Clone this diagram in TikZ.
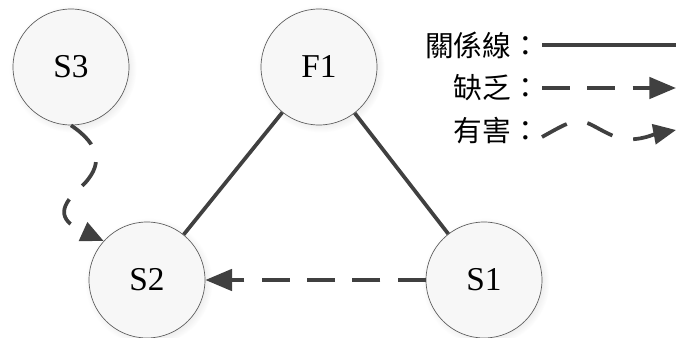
\documentclass[tikz,border=0pt]{standalone}
\usepackage{fontspec}
\setmainfont{Liberation Serif}
\newfontfamily\tnr{Liberation Serif}
\newfontfamily\cjk{Noto Sans CJK TC}
\usetikzlibrary{arrows.meta,shadows}
\begin{document}
\begin{tikzpicture}[x=0.75pt,y=-0.75pt,
  st/.style={circle,minimum size=87pt,inner sep=0pt,draw=gray!70!black,line width=0.5pt,
    fill=gray!6,font=\tnr\fontsize{25}{28}\selectfont,
    circular drop shadow={shadow xshift=1.2pt,shadow yshift=-1.2pt,opacity=0.15,fill=gray}},
  rel/.style={draw=black!75,line width=2.8pt},
  lack/.style={rel,dash pattern=on 21pt off 13pt,-{Triangle[length=20pt,width=16pt]}},
  harm/.style={rel,dash pattern=on 21pt off 14pt,-{Triangle[length=17pt,width=15pt]}},
  leg/.style={anchor=east,inner sep=0pt,font=\cjk\fontsize{21.5}{25}\selectfont}
]
\useasboundingbox (0,0) rectangle (676,338);
\node[st] (S3) at (71,67) {S3};
\node[st] (F1) at (319,67) {F1};
\node[st] (S2) at (147,280) {S2};
\node[st] (S1) at (484,280) {S1};

\draw[rel] (F1) -- (S2);
\draw[rel] (F1) -- (S1);
\draw[lack] (S1) -- (S2);
\draw[harm] (S3.south) .. controls (100,145) and (105,165) .. (80,188)
  .. controls (55,210) and (62,222) .. (S2.138);

% legend
\node[leg] (t1) at (540,45) {關係線：};
\node[leg] (t2) at (540,88) {缺乏：};
\node[leg] (t3) at (540,131) {有害：};
\coordinate (a1) at (542,45); \coordinate (b1) at (676,45);
\coordinate (a2) at (542,88); \coordinate (b2) at (676,88);
\coordinate (a3) at (542,137); \coordinate (b3) at (676,130);
\draw[rel] (a1) -- (b1);
\draw[lack] (a2) -- (b2);
\draw[rel,dash pattern=on 21pt off 16pt,-{Triangle[length=17pt,width=15pt]}]
  (a3) .. controls (560,127) and (570,121) .. (579,121)
  .. controls (590,121) and (605,135) .. (623,139)
  .. controls (640,141) and (655,134) .. (b3);
\end{tikzpicture}
\end{document}
